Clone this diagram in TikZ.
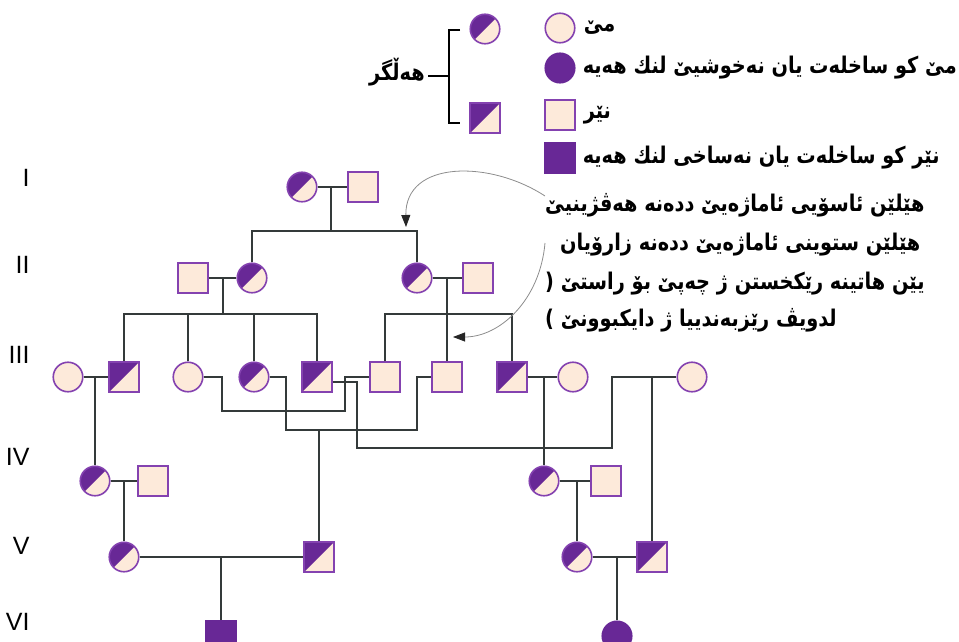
\documentclass[tikz,border=0pt]{standalone}
\usepackage{fontspec}
\setmainfont{Liberation Sans}
\newfontfamily\kurdfont[Script=Arabic,FakeStretch=0.84]{DejaVu Sans}
\TeXXeTstate=1
\usetikzlibrary{arrows.meta,positioning}
\definecolor{peach}{RGB}{253,234,218}
\definecolor{pline}{RGB}{132,66,176}
\definecolor{pfill}{RGB}{104,40,150}
\definecolor{link}{RGB}{52,58,58}

\begin{document}
\begin{tikzpicture}[x=1pt,y=-1pt,
            f/.style={circle,draw=pline,fill=peach,line width=1.6pt,minimum size=29.5pt,inner sep=0pt},
            m/.style={rectangle,draw=pline,fill=peach,line width=1.6pt,minimum size=29.5pt,inner sep=0pt},
            half/.style={path picture={\fill[pfill] (path picture bounding box.south west) -- (path picture bounding box.north east) -- (path picture bounding box.north west) -- cycle;}},
            ill/.style={fill=pfill,draw=pfill},
            gen/.style={anchor=east,font=\fontsize{25}{30}\selectfont},
            txt/.style={anchor=west,inner sep=0pt,font=\kurdfont\bfseries\fontsize{23}{28}\selectfont},
            ln/.style={draw=link,line width=1.3pt},
            hint/.style={draw=black!45,line width=0.8pt,-{Triangle[length=12pt,width=9pt,color=black!85]}}
        ]

        \useasboundingbox (0,0) rectangle (959,642);

        % generations
        \node[gen] (gI) at (33,178) {I};
        \node[gen] (gII) at (33,265) {II};
        \node[gen] (gIII) at (33,355) {III};
        \node[gen] (gIV) at (33,457) {IV};
        \node[gen] (gV) at (33,546) {V};
        \node[gen] (gVI) at (33,622) {VI};

        \node[f,half] (I1) at (302,187) {};
        \node[m] (I2) at (363,187) {};

        \node[m] (II1) at (193,278) {};
        \node[f,half] (II2) at (252,278) {};
        \node[f,half] (II3) at (417,278) {};
        \node[m] (II4) at (478,278) {};

        \node[f] (III1) at (68,377) {};
        \node[m,half] (III2) at (124,377) {};
        \node[f] (III3) at (188,377) {};
        \node[f,half] (III4) at (254,377) {};
        \node[m,half] (III5) at (317,377) {};
        \node[m] (III6) at (385,377) {};
        \node[m] (III7) at (447,377) {};
        \node[m,half] (III8) at (512,377) {};
        \node[f] (III9) at (573,377) {};
        \node[f] (III10) at (692,377) {};

        \node[f,half] (IV1) at (95,481) {};
        \node[m] (IV2) at (153,481) {};
        \node[f,half] (IV3) at (544,481) {};
        \node[m] (IV4) at (606,481) {};

        \node[f,half] (V1) at (124,557) {};
        \node[m,half] (V2) at (319,557) {};
        \node[f,half] (V3) at (577,557) {};
        \node[m,half] (V4) at (652,557) {};

        \node[m,ill] (VI1) at (221,636) {};
        \node[f,ill] (VI2) at (617,636) {};

        \coordinate (sI) at (331,231);
        \coordinate (sII) at (223,314);
        \coordinate (sIIb) at (447,314);
        \coordinate (k1) at (222,411);
        \coordinate (k2) at (345,411);
        \coordinate (k3) at (286,430);
        \coordinate (k4) at (417,430);
        \coordinate (k5) at (357,448);
        \coordinate (k6) at (612,448);

        \draw[ln] (I1) -- (I2);
        \draw[ln] (sI |- I1) -- (sI);
        \draw[ln] (II2.north) |- (sI) -| (II3.north);

        \draw[ln] (II1) -- (II2);
        \draw[ln] (sII |- II1) -- (sII);
        \draw[ln] (III2.north) |- (sII) -| (III5.north);
        \draw[ln] (III3.north) -- (III3.north |- sII);
        \draw[ln] (III4.north) -- (III4.north |- sII);

        \draw[ln] (II3) -- (II4);
        \draw[ln] (sIIb |- II3) -- (III7.north);
        \draw[ln] (III6.north) |- (sIIb) -| (III8.north);

        \draw[ln] (III1) -- (III2);
        \draw[ln] (III1.east -| IV1) -- (IV1.north);
        \draw[ln] (III3.east) -| (k1) -- (k2) |- (III6.west);
        \draw[ln] (III4.east) -| (k3) -- (k4) |- (III7.west);
        \draw[ln] (k3 -| V2) -- (V2.north);
        \draw[ln] ([yshift=-5pt]III5.east) -| (k5) -- (k6) |- (III10.west);
        \draw[ln] (III10.west -| V4) -- (V4.north);
        \draw[ln] (III8) -- (III9);
        \draw[ln] (III8.east -| IV3) -- (IV3.north);

        \draw[ln] (IV1) -- (IV2);
        \draw[ln] (IV1.east -| V1) -- (V1.north);
        \draw[ln] (IV3) -- (IV4);
        \draw[ln] (IV3.east -| V3) -- (V3.north);

        \draw[ln] (V1) -- (V2);
        \draw[ln] (V1.east -| VI1) -- (VI1.north);
        \draw[ln] (V3) -- (V4);
        \draw[ln] (V3.east -| VI2) -- (VI2.north);

        % legend
        \node[f,half] (Lc) at (485,29) {};
        \node[m,half] (Ls) at (485,118) {};
        \coordinate (bt) at (449,30);
        \coordinate (bb) at (449,123);
        \coordinate (bm) at (428,76);
        \draw[black,line width=1.4pt] ([xshift=11pt]bt) -- (bt) -- (bb) -- ([xshift=11pt]bb);
        \draw[black,line width=1.4pt] (bt |- bm) -- (bm);
        \node[txt,anchor=east] (carrier) at (425,72) {\beginR هەڵگر\endR};

        \node[f] (Lf) at (560,28) {};
        \node[f,ill] (La) at (560,68) {};
        \node[m] (Lm) at (560,115) {};
        \node[m,ill] (Lb) at (560,158) {};
        \node[txt,right=8pt of Lf] (tf) {\beginR مێ\endR};
        \node[txt,right=7pt of La] (ta) {\beginR مێ کو ساخلەت یان نەخوشیێ لنك هەیە\endR};
        \node[txt,right=8pt of Lm] (tm) {\beginR نێر\endR};
        \node[txt,right=7pt of Lb] (tb) {\beginR نێر کو ساخلەت یان نەساخی لنك هەیە\endR};

        % notes
        \node[txt] (p1) at (545,205) {\beginR هێلێن ئاسۆیی ئاماژەیێ ددەنە هەڤژینیێ\endR};
        \node[txt] (p2) at (560,245) {\beginR هێلێن ستوینی ئاماژەیێ ددەنە زارۆیان\endR};
        \node[txt] (p3) at (545,284) {( \beginR یێن هاتینە رێکخستن ژ چەپێ بۆ راستێ\endR};
        \node[txt] (p4) at (545,320) {) \beginR لدویڤ رێزبەندییا ژ دایکبوونێ\endR};

        \coordinate (a1) at (545,196);
        \coordinate (a1e) at (406,227);
        \coordinate (a2) at (545,243);
        \coordinate (a2e) at (453,337);
        \draw[hint] (a1) .. controls (490,160) and (405,160) .. (a1e);
        \draw[hint] (a2) .. controls (540,300) and (500,337) .. (a2e);

\end{tikzpicture}
\end{document}
